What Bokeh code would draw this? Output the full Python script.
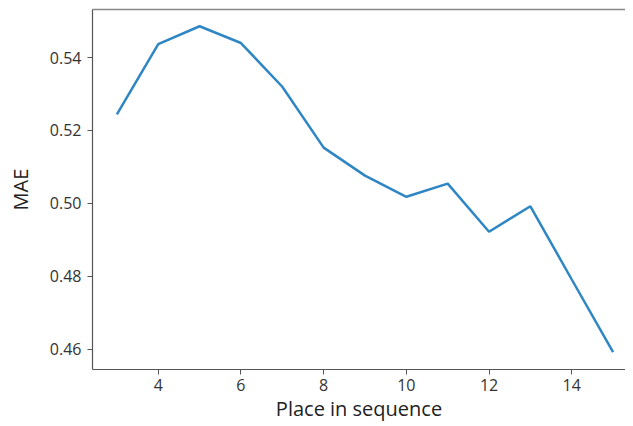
from bokeh.plotting import figure
from bokeh.models import LinearAxis, FixedTicker, NumeralTickFormatter, Range1d
from bokeh.embed import file_html
from bokeh.resources import INLINE

place = [3, 4, 5, 6, 7, 8, 9, 10, 11, 12, 13, 14, 15]
mae = [0.5244, 0.5437, 0.5486, 0.5440, 0.5320, 0.5153, 0.5076,
       0.5018, 0.5054, 0.4922, 0.4992, 0.4791, 0.4592]
x_ticks = [4, 6, 8, 10, 12, 14]
y_ticks = [0.46, 0.48, 0.50, 0.52, 0.54]

FONT = "Open Sans"

p = figure(width=625, height=424, output_backend="svg", toolbar_location=None,
           x_range=Range1d(2.41, 15.3), y_range=Range1d(0.4544, 0.5532),
           min_border_left=92, min_border_right=0, min_border_top=9,
           min_border_bottom=50, x_axis_label="Place in sequence",
           y_axis_label="MAE")
p.outline_line_color = None
p.grid.visible = False
p.background_fill_color = "white"
p.border_fill_color = "white"

p.line(place, mae, line_color="#2f86c4", line_width=2.5)

for ax in (p.xaxis[0], p.yaxis[0]):
    ax.axis_line_color = "#555555"
    ax.axis_line_width = 1.2
    ax.major_tick_line_color = "#555555"
    ax.major_tick_out = 5
    ax.major_tick_in = 0
    ax.minor_tick_line_color = None
    ax.major_label_text_font = FONT
    ax.major_label_text_font_size = "16px"
    ax.major_label_text_color = "#333333"
    ax.axis_label_text_font = FONT
    ax.axis_label_text_font_size = "20px"
    ax.axis_label_text_font_style = "normal"
    ax.axis_label_text_color = "#222222"

p.xaxis[0].ticker = FixedTicker(ticks=x_ticks)
p.yaxis[0].ticker = FixedTicker(ticks=y_ticks)
p.yaxis[0].formatter = NumeralTickFormatter(format="0.00")
p.yaxis[0].major_label_standoff = 6
p.yaxis[0].axis_label_standoff = 13
p.xaxis[0].major_label_standoff = 4
p.xaxis[0].axis_label_standoff = 1

top = LinearAxis(ticker=FixedTicker(ticks=[]), axis_line_color="#888888",
                 axis_line_width=1.5, major_tick_line_color=None,
                 minor_tick_line_color=None, major_label_text_font_size="0px",
                 major_label_standoff=0, major_tick_out=0, major_tick_in=0)
p.add_layout(top, "above")

open("out.html", "w").write(file_html(p, INLINE))
